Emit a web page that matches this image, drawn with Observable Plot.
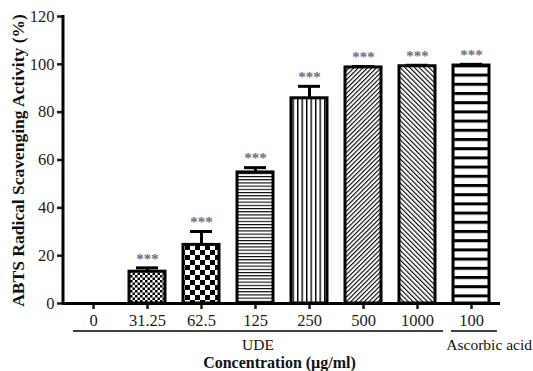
<!DOCTYPE html>
<html><head><meta charset="utf-8">
<script src="https://cdn.jsdelivr.net/npm/d3@7"></script>
<script src="https://cdn.jsdelivr.net/npm/@observablehq/plot@0.6"></script>
<style>body{margin:0;background:#fff} #chart svg{display:block}</style>
</head><body>
<svg width="0" height="0" style="position:absolute">
<defs>
  <pattern id="pChkSmall" patternUnits="userSpaceOnUse" width="5" height="5">
    <rect width="5" height="5" fill="#fff"/>
    <rect x="0" y="0" width="2.5" height="2.5" fill="#000"/>
    <rect x="2.5" y="2.5" width="2.5" height="2.5" fill="#000"/>
  </pattern>
  <pattern id="pChkBig" patternUnits="userSpaceOnUse" width="10" height="10">
    <rect width="10" height="10" fill="#fff"/>
    <rect x="0" y="0" width="5" height="5" fill="#000"/>
    <rect x="5" y="5" width="5" height="5" fill="#000"/>
  </pattern>
  <pattern id="pHorizFine" patternUnits="userSpaceOnUse" width="4" height="3.2">
    <rect width="4" height="3.2" fill="#fff"/>
    <rect x="0" y="0" width="4" height="1.1" fill="#000"/>
  </pattern>
  <pattern id="pVert" patternUnits="userSpaceOnUse" width="4.5" height="4">
    <rect width="4.5" height="4" fill="#fff"/>
    <rect x="0" y="0" width="1.4" height="4" fill="#000"/>
  </pattern>
  <pattern id="pDiagUp" patternUnits="userSpaceOnUse" width="3.2" height="3.2" patternTransform="rotate(45)">
    <rect width="3.2" height="3.2" fill="#fff"/>
    <rect x="0" y="0" width="1.1" height="3.2" fill="#000"/>
  </pattern>
  <pattern id="pDiagDown" patternUnits="userSpaceOnUse" width="3.4" height="3.4" patternTransform="rotate(-45)">
    <rect width="3.4" height="3.4" fill="#fff"/>
    <rect x="0" y="0" width="1.1" height="3.4" fill="#000"/>
  </pattern>
  <pattern id="pStripe" patternUnits="userSpaceOnUse" width="10" height="9.2">
    <rect width="10" height="9.2" fill="#fff"/>
    <rect x="0" y="0" width="10" height="3" fill="#000"/>
  </pattern>
</defs>
</svg>
<div id="chart"></div>
<script>
// ---- data ----
const categories = ["0", "31.25", "62.5", "125", "250", "500", "1000", "100"];
const values = [0, 13.3, 24.5, 54.8, 85.8, 98.7, 99.2, 99.5];
const errors = [0, 1.6, 5.6, 2.0, 5.0, 0.4, 0.4, 0.5];
const significance = ["", "***", "***", "***", "***", "***", "***", "***"];
const groups = ["UDE", "UDE", "UDE", "UDE", "UDE", "UDE", "UDE", "Ascorbic acid"];
const yTicks = [0, 20, 40, 60, 80, 100, 120];
const yLabel = "ABTS Radical Scavenging Activity (%)";
const xLabel = "Concentration (\u00B5g/ml)";

const patternIds = ["none", "pChkSmall", "pChkBig", "pHorizFine", "pVert", "pDiagUp", "pDiagDown", "pStripe"];

const data = categories.map((c, i) => ({
  cat: c, value: values[i], err: errors[i], top: values[i] + errors[i],
  star: significance[i], group: groups[i],
  fill: patternIds[i] === "none" ? "none" : `url(#${patternIds[i]})`
}));

const serif = "'Liberation Serif','Times New Roman',Times,serif";

function annotations(index, scales, values, dims) {
  const x = scales.x, y = scales.y;
  const bw = x.bandwidth ? x.bandwidth() : 36;
  const g = d3.create("svg:g").attr("font-family", serif).attr("fill", "#111");
  // left axis line
  g.append("line")
    .attr("x1", dims.marginLeft).attr("x2", dims.marginLeft)
    .attr("y1", y(120) - 1).attr("y2", y(0) + 1.5)
    .attr("stroke", "#000").attr("stroke-width", 3);
  // group underlines + labels
  const names = [...new Set(groups)];
  const baseY = y(0);
  names.forEach((name, k) => {
    const cats = categories.filter((c, i) => groups[i] === name);
    const x1 = x(cats[0]) - 2;
    const x2 = x(cats[cats.length - 1]) + bw + 8;
    g.append("line").attr("x1", x1).attr("x2", x2)
      .attr("y1", baseY + 28).attr("y2", baseY + 28)
      .attr("stroke", "#000").attr("stroke-width", 1.5);
    const last = k === names.length - 1 && cats.length === 1;
    g.append("text")
      .attr("x", last ? dims.width - 1 : (x1 + x2) / 2)
      .attr("y", baseY + 47)
      .attr("text-anchor", last ? "end" : "middle")
      .attr("font-size", 15.5)
      .text(name);
  });
  // x title
  g.append("text")
    .attr("x", (dims.marginLeft + dims.width - dims.marginRight) / 2 - 2)
    .attr("y", baseY + 65)
    .attr("text-anchor", "middle").attr("font-weight", "bold").attr("font-size", 16)
    .text(xLabel);
  // y title
  g.append("text")
    .attr("transform", `translate(18,${(y(0) + y(120)) / 2 + 1}) rotate(-90)`)
    .attr("dy", "0.35em")
    .attr("text-anchor", "middle").attr("font-weight", "bold").attr("font-size", 17.5)
    .text(yLabel);
  return g.node();
}

const withErr = data.filter(d => d.err > 0);

const chart = Plot.plot({
  width: 533, height: 371,
  marginLeft: 63, marginRight: 33, marginTop: 16, marginBottom: 68,
  style: {fontFamily: serif, fontSize: "16.5px", color: "#1a1a1a", background: "#fff"},
  x: {domain: categories, paddingInner: 0.34, paddingOuter: 0.185, label: null},
  y: {domain: [0, 120], label: null},
  color: {type: "identity"},
  marks: [
    Plot.barY(data, {x: "cat", y: "value", fill: "fill", stroke: "#000", strokeWidth: 3}),
    Plot.ruleX(withErr, {x: "cat", y1: "value", y2: "top", stroke: "#000", strokeWidth: 3}),
    Plot.tickY(withErr, {x: "cat", y: "top", stroke: "#000", strokeWidth: 3, insetLeft: 7, insetRight: 7}),
    Plot.text(data, {x: "cat", y: "top", text: "star", dy: -9, fill: "#6e6e80", fontSize: 15, fontWeight: "bold"}),
    Plot.axisY({ticks: yTicks, tickSize: 6, tickPadding: 3, tickFormat: d => d, label: null, strokeWidth: 2.5}),
    Plot.axisX({tickSize: 6, tickPadding: 5, label: null, strokeWidth: 2.5}),
    Plot.ruleY([0], {stroke: "#000", strokeWidth: 3}),
    annotations
  ]
});
document.getElementById("chart").append(chart);
</script>
</body></html>
